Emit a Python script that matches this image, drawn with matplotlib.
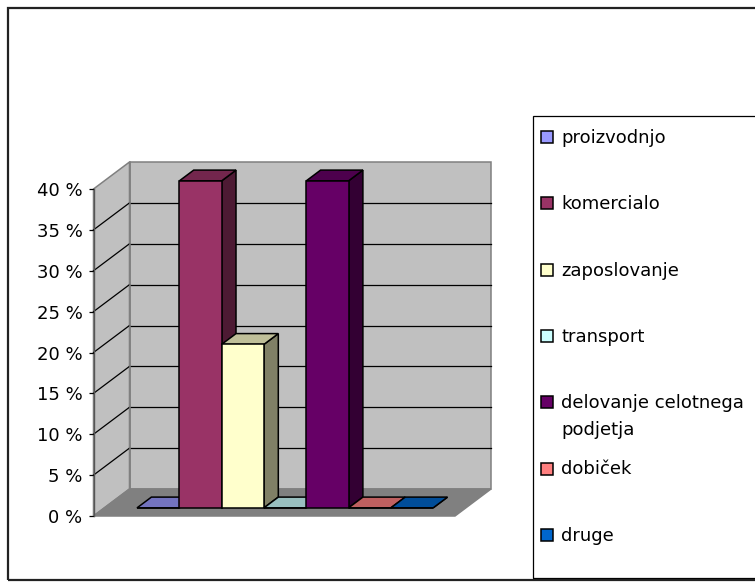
import matplotlib.pyplot as plt
from matplotlib.patches import Rectangle

categories = ['proizvodnjo', 'komercialo', 'zaposlovanje', 'transport',
              'delovanje celotnega\npodjetja', 'dobiček', 'druge']
values = [0, 40, 20, 0, 40, 0, 0]
colors = ['#9999FF', '#993366', '#FFFFCC', '#CCFFFF', '#660066', '#FF8080', '#0066CC']
y_ticks = [0, 5, 10, 15, 20, 25, 30, 35, 40]
y_labels = [f'{v} %' for v in y_ticks]

W, H = 755, 583
plt.rcParams['font.family'] = ['DejaVu Sans']
FS = 13

fig = plt.figure(figsize=(W / 100, H / 100), dpi=100)
fig.patch.set_facecolor('white')

# front plane of the 3d box, in pixels
ax = fig.add_axes([93.5 / W, 67 / H, 361.5 / W, 327 / H])
ymax = y_ticks[-1]
bar_px = 42.3
xmax = 361.5 / bar_px
dx = 36 / bar_px            # depth shift, x data units
dy = 27 * ymax / 327        # depth shift, y data units
ax.set_xlim(0, xmax)
ax.set_ylim(0, ymax)


def proj(x, y, d):
    return x + d * dx, y + d * dy


def face(pts, fc, ec, lw, z=1):
    xs, ys = zip(*[proj(*p) for p in pts])
    ax.fill(xs, ys, fc=fc, ec=ec, lw=lw, clip_on=False, zorder=z,
            joinstyle='miter')


def shade(hexcol, k):
    r, g, b = [int(hexcol[i:i + 2], 16) / 255 for i in (1, 3, 5)]
    return (r * k, g * k, b * k)


wall = '#C0C0C0'
edge = '#808080'
face([(0, 0, 0), (0, ymax, 0), (0, ymax, 1), (0, 0, 1)], wall, edge, 1.1)
face([(0, 0, 1), (xmax, 0, 1), (xmax, ymax, 1), (0, ymax, 1)], wall, edge, 1.1)
face([(0, 0, 0), (xmax, 0, 0), (xmax, 0, 1), (0, 0, 1)], edge, edge, 1.1)

# gridlines on the back and side walls
for v in y_ticks[1:-1]:
    xs, ys = zip(proj(0, v, 1), proj(xmax, v, 1))
    ax.plot(xs, ys, color='black', lw=0.9, clip_on=False, zorder=1.5)
    xs, ys = zip(proj(0, v, 0), proj(0, v, 1))
    ax.plot(xs, ys, color='black', lw=0.9, clip_on=False, zorder=1.5)
xs, ys = zip(proj(0, 0, 1), proj(0, ymax, 1))
ax.plot(xs, ys, color=edge, lw=1.1, clip_on=False, zorder=1.5)

# bars
gap = (xmax - len(values)) / 2
d0, d1 = 0.3, 0.7
for i, (h, c) in enumerate(zip(values, colors)):
    x0 = gap + i
    x1 = x0 + 1
    face([(x1, 0, d0), (x1, 0, d1), (x1, h, d1), (x1, h, d0)],
         shade(c, 0.5), 'black', 1.1, 2)
    face([(x0, h, d0), (x1, h, d0), (x1, h, d1), (x0, h, d1)],
         shade(c, 0.75), 'black', 1.1, 2)
    face([(x0, 0, d0), (x1, 0, d0), (x1, h, d0), (x0, h, d0)],
         c, 'black', 1.1, 2)

ax.set_yticks(y_ticks)
ax.set_yticklabels(y_labels, fontsize=FS)
ax.set_xticks([])
ax.tick_params(axis='y', direction='out', length=3.6, width=0.9, pad=4.3,
               color='black')
for s in ['top', 'right', 'bottom']:
    ax.spines[s].set_visible(False)
ax.spines['left'].set_color('#555555')
ax.spines['left'].set_linewidth(1.0)
ax.spines['left'].set_zorder(3)
ax.patch.set_visible(False)

# legend: marker sits beside the first line of each label
fig.add_artist(Rectangle((533 / W, 5 / H), 1.0, (578 - 116) / H,
                         transform=fig.transFigure, fill=False,
                         ec='black', lw=0.9))
line_step = 27
for i, (name, c) in enumerate(zip(categories, colors)):
    ym = 137 + i * 66.3
    fig.add_artist(Rectangle((541 / W, 1 - (ym + 6) / H), 12 / W, 12 / H,
                             transform=fig.transFigure, fc=c, ec='black',
                             lw=1.1))
    extra = (name.count('\n')) * line_step
    fig.text(561 / W, 1 - (ym + 6 + extra) / H, name, fontsize=FS,
             va='baseline', ha='left', linespacing=1.65)

# chart border
fig.add_artist(Rectangle((7.5 / W, 3 / H), 1.0, (580 - 8) / H,
                         transform=fig.transFigure, fill=False,
                         ec='#222222', lw=1.6))

fig.savefig('out.png', dpi=100)
